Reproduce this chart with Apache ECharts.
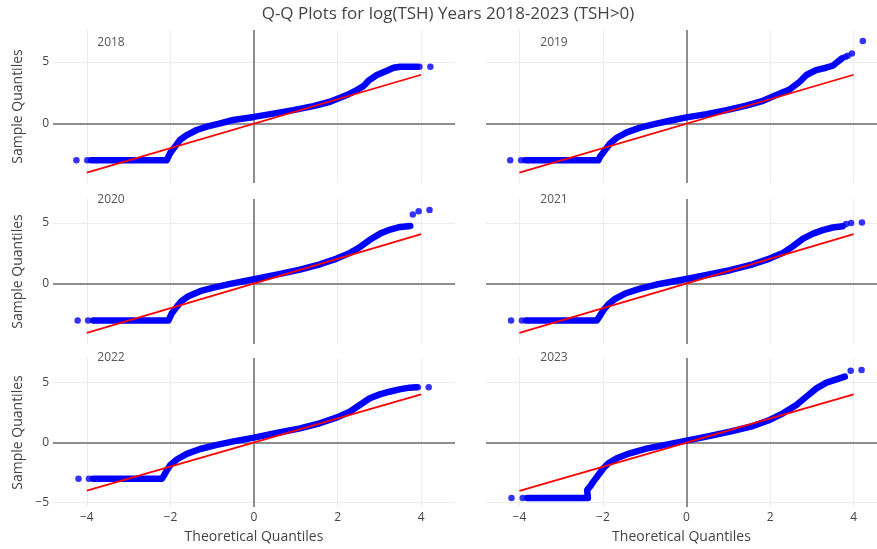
<!DOCTYPE html>
<html>
<head>
<meta charset="utf-8">
<script src="https://cdn.jsdelivr.net/npm/echarts@6.0.0/dist/echarts.min.js"></script>
<style>
html,body{margin:0;padding:0;background:#fff;}
#chart{width:877px;height:549px;}
</style>
</head>
<body>
<div id="chart"></div>
<script>
// ---------- data ----------
const years = ['2018', '2019', '2020', '2021', '2022', '2023'];

const xTicks = [-4, -2, 0, 2, 4];
const yTicks = [-5, 0, 5];

// dense part of each Q-Q cloud: [theoretical quantile, sample quantile]
const band2018 = [[-3.9,-2.97],[-2.09,-2.97],[-2.01,-2.4],[-1.89,-1.86],[-1.77,-1.32],[-1.61,-0.92],[-1.37,-0.51],[-1.13,-0.24],[-0.81,0.03],[-0.5,0.3],[0,0.55],[0.46,0.82],[0.94,1.1],[1.42,1.43],[1.82,1.78],[2.22,2.32],[2.46,2.73],[2.62,3.05],[2.74,3.49],[2.94,3.95],[3.18,4.3],[3.34,4.54],[3.5,4.62],[3.9,4.62]];
const band2019 = [[-3.86,-2.97],[-2.11,-2.97],[-2.07,-2.68],[-1.95,-2.14],[-1.83,-1.6],[-1.67,-1.14],[-1.43,-0.7],[-1.11,-0.32],[-0.8,-0.05],[-0.4,0.24],[0,0.51],[0.48,0.78],[0.96,1.1],[1.43,1.46],[1.83,1.86],[2.15,2.32],[2.47,2.78],[2.71,3.4],[2.87,3.95],[3.1,4.35],[3.34,4.54],[3.5,4.7],[3.62,5.03],[3.72,5.3]];
const band2020 = [[-3.85,-3.05],[-2.05,-3.05],[-1.97,-2.47],[-1.85,-1.92],[-1.73,-1.43],[-1.57,-1.04],[-1.29,-0.63],[-0.97,-0.33],[-0.57,-0.03],[0,0.36],[0.54,0.74],[1.1,1.15],[1.58,1.59],[1.98,2.06],[2.3,2.53],[2.54,3.02],[2.78,3.63],[3.02,4.12],[3.26,4.45],[3.5,4.67],[3.74,4.75]];
const band2021 = [[-3.84,-3.05],[-2.15,-3.05],[-2.09,-2.75],[-1.99,-2.2],[-1.87,-1.7],[-1.71,-1.26],[-1.47,-0.82],[-1.11,-0.41],[-0.72,-0.08],[0,0.38],[0.48,0.71],[1.04,1.1],[1.59,1.59],[1.99,2.06],[2.31,2.53],[2.55,3.08],[2.79,3.71],[3.03,4.12],[3.26,4.4],[3.5,4.62],[3.74,4.73]];
const band2022 = [[-3.85,-3.04],[-2.2,-3.04],[-2.16,-2.81],[-2.08,-2.31],[-2.0,-1.89],[-1.84,-1.42],[-1.61,-0.97],[-1.29,-0.56],[-0.89,-0.22],[-0.49,0.08],[0,0.39],[0.54,0.78],[1.1,1.17],[1.57,1.59],[1.97,2.06],[2.29,2.56],[2.53,3.12],[2.77,3.68],[3.01,4.01],[3.24,4.23],[3.48,4.43],[3.72,4.57],[3.88,4.6]];
const band2023 = [[-3.81,-4.65],[-2.36,-4.65],[-2.38,-4.0],[-2.31,-3.7],[-2.23,-3.29],[-2.11,-2.73],[-1.99,-2.17],[-1.87,-1.75],[-1.67,-1.34],[-1.36,-0.92],[-0.96,-0.53],[-0.48,-0.19],[0,0.14],[0.48,0.47],[1.04,0.89],[1.59,1.36],[1.99,1.87],[2.31,2.42],[2.63,3.12],[2.87,3.82],[3.11,4.51],[3.35,4.99],[3.59,5.26],[3.79,5.49]];

// isolated points at both tails
const tail2018 = [[-4.25,-2.97],[-3.99,-2.97],[3.96,4.62],[4.22,4.62]];
const tail2019 = [[-4.22,-2.97],[-3.96,-2.97],[3.8,5.42],[3.86,5.51],[3.96,5.7],[4.22,6.7]];
const tail2020 = [[-4.22,-3.05],[-3.97,-3.05],[3.8,5.69],[3.94,5.96],[4.2,6.07]];
const tail2021 = [[-4.2,-3.05],[-3.94,-3.05],[3.82,4.9],[3.94,5.0],[4.2,5.03]];
const tail2022 = [[-4.2,-3.04],[-3.95,-3.04],[3.92,4.6],[4.18,4.6]];
const tail2023 = [[-4.19,-4.65],[-3.92,-4.65],[3.93,5.99],[4.19,6.04]];

// reference (fit) lines
const fit2018 = [[-4,-3.97],[4,3.97]];
const fit2019 = [[-4,-3.97],[4,3.97]];
const fit2020 = [[-4,-4.07],[4,4.07]];
const fit2021 = [[-4,-4.07],[4,4.07]];
const fit2022 = [[-4,-4.04],[4,4.01]];
const fit2023 = [[-4,-4.07],[4,4.0]];

const bands = [band2018, band2019, band2020, band2021, band2022, band2023];
const tails = [tail2018, tail2019, tail2020, tail2021, tail2022, tail2023];
const fits = [fit2018, fit2019, fit2020, fit2021, fit2022, fit2023];

// ---------- layout ----------
const cols = [{left: 53, width: 402}, {left: 486, width: 391}];
const rows = [{top: 30, height: 153}, {top: 199, height: 145}, {top: 358, height: 149}];
const xRange = [[-4.81, 4.81], [-4.8, 4.56]];
const yRange = [[-4.81, 7.6], [-4.98, 6.97], [-5.41, 7.05]];
const labelPos = [[111, 43], [554, 43], [111, 200], [554, 200], [111, 358], [554, 358]];

const FONT = '"Open Sans", "Noto Sans", sans-serif';
const TXT = '#444';
const GRID_C = '#ececec';
const ZERO_C = '#8e8e8e';
const minus = v => (v < 0 ? '\u2212' + Math.abs(v) : String(v));

const grid = [], xAxis = [], yAxis = [], series = [], graphic = [];

years.forEach((yr, i) => {
  const r = Math.floor(i / 2), c = i % 2;
  grid.push({left: cols[c].left, width: cols[c].width, top: rows[r].top, height: rows[r].height, containLabel: false});
  xAxis.push({
    type: 'value', gridIndex: i, min: xRange[c][0], max: xRange[c][1],
    axisLine: {show: false}, axisTick: {show: false, customValues: xTicks},
    axisLabel: {show: r === 2, customValues: xTicks, formatter: minus, color: TXT, fontSize: 12, fontFamily: FONT, margin: 5},
    splitLine: {show: true, lineStyle: {color: GRID_C, width: 1}},
    name: r === 2 ? 'Theoretical Quantiles' : '', nameLocation: 'middle', nameGap: 23,
    nameTextStyle: {color: TXT, fontSize: 14, fontFamily: FONT}
  });
  yAxis.push({
    type: 'value', gridIndex: i, min: yRange[r][0], max: yRange[r][1],
    axisLine: {show: false}, axisTick: {show: false, customValues: yTicks},
    axisLabel: {show: c === 0, customValues: yTicks, formatter: minus, color: TXT, fontSize: 12, fontFamily: FONT, margin: 4},
    splitLine: {show: true, lineStyle: {color: GRID_C, width: 1}},
    name: c === 0 ? 'Sample Quantiles' : '', nameLocation: 'middle', nameGap: 28,
    nameTextStyle: {color: TXT, fontSize: 14, fontFamily: FONT}
  });
  series.push({
    type: 'line', xAxisIndex: i, yAxisIndex: i, data: bands[i], showSymbol: false, z: 3,
    lineStyle: {color: '#0000ff', width: 6.5, cap: 'round', join: 'round'},
    silent: true, animation: false,
    markLine: {
      silent: true, z: 1, animation: false, symbol: ['none', 'none'], label: {show: false},
      lineStyle: {color: ZERO_C, width: 2, type: 'solid'},
      emphasis: {disabled: true},
      data: [{xAxis: 0}, {yAxis: 0}]
    }
  });
  series.push({
    type: 'scatter', xAxisIndex: i, yAxisIndex: i, data: tails[i], symbol: 'circle', symbolSize: 6.5, z: 3,
    itemStyle: {color: '#0000ff'}, silent: true, animation: false
  });
  series.push({
    type: 'line', xAxisIndex: i, yAxisIndex: i, data: fits[i], showSymbol: false, z: 4,
    lineStyle: {color: '#ff0000', width: 1.8}, silent: true, animation: false
  });
  graphic.push({
    type: 'text', x: labelPos[i][0], y: labelPos[i][1], silent: true,
    style: {text: yr, fill: '#555', font: '12px ' + FONT, textAlign: 'center', textVerticalAlign: 'middle'}
  });
});

graphic.push({
  type: 'text', x: 448, y: 14, silent: true,
  style: {text: 'Q-Q Plots for log(TSH) Years 2018-2023 (TSH>0)', fill: TXT, font: '17px ' + FONT, textAlign: 'center', textVerticalAlign: 'middle'}
});

const chart = echarts.init(document.getElementById('chart'), null, {renderer: 'canvas'});
chart.setOption({
  backgroundColor: '#ffffff',
  animation: false,
  grid, xAxis, yAxis, series, graphic
});
</script>
</body>
</html>
